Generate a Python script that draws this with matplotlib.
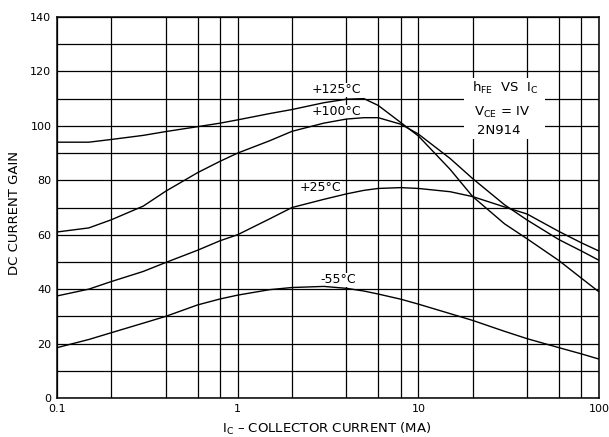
import numpy as np
import matplotlib
matplotlib.use("Agg")
import matplotlib.pyplot as plt
from matplotlib.patches import Rectangle

# collector current (mA)
ic = [0.1, 0.15, 0.2, 0.3, 0.4, 0.6, 0.8, 1, 1.5, 2, 3, 4, 5, 6, 8, 10,
      15, 20, 30, 40, 60, 80, 100]

# DC current gain for each temperature
hfe_125 = [94, 94, 95, 96.5, 97.9, 99.7, 101, 102.2, 104.5, 106, 108.5, 109.8,
           110, 107.5, 101.2, 96.3, 84, 74, 64, 58.5, 50.5, 44, 39]
hfe_100 = [61, 62.5, 65.5, 70.5, 76, 82.8, 87, 90, 94.5, 98, 101, 102.5,
           103, 103, 100.6, 97, 88, 80.6, 71, 65.4, 58.2, 54, 50.6]
hfe_25 = [37.5, 40, 42.8, 46.5, 49.8, 54.3, 57.8, 60, 65.8, 70, 73, 75,
          76.3, 77, 77.3, 77, 75.8, 74, 70.2, 67.6, 61.2, 57, 54]
hfe_m55 = [18.5, 21.5, 24, 27.5, 30, 34.2, 36.4, 37.8, 39.8, 40.6, 41, 40.3,
           39.3, 38.2, 36.3, 34.5, 31, 28.5, 24.5, 21.8, 18.5, 16.2, 14.3]

curve_labels = ["+125°C", "+100°C", "+25°C", "-55°C"]
label_pos = [(3.54, 113.2), (3.54, 105.1), (2.89, 77.2), (3.59, 43.4)]

x_major = [0.1, 1, 10, 100]
x_major_labels = ["0.1", "1", "10", "100"]
x_minor = [0.2, 0.4, 0.6, 0.8, 2, 4, 6, 8, 20, 40, 60, 80]
y_major = np.arange(0, 141, 20)
y_minor = np.arange(10, 140, 20)

plt.rcParams['font.family'] = ['DejaVu Sans']

fig = plt.figure(figsize=(6.09, 4.37), dpi=100)
ax = fig.add_axes([57/609, 39/437, 542/609, 381/437])

ax.set_xscale("log")
ax.set_xlim(0.1, 100)
ax.set_ylim(0, 140)

ax.set_xticks(x_major)
ax.set_xticklabels(x_major_labels)
ax.set_xticks(x_minor, minor=True)
ax.set_xticklabels([], minor=True)
ax.set_yticks(y_major)
ax.set_yticks(y_minor, minor=True)

ax.grid(which="both", color="black", lw=0.9)
ax.set_axisbelow(True)
ax.tick_params(which="both", length=0, labelsize=8, colors="black")
ax.tick_params(axis="x", pad=4)
ax.tick_params(axis="y", pad=4)
for s in ax.spines.values():
    s.set_linewidth(1.1)
    s.set_zorder(5)

for vals in [hfe_125, hfe_100, hfe_25, hfe_m55]:
    ax.plot(ic, vals, color="black", lw=1.0, zorder=4)

for lab, (x, y) in zip(curve_labels, label_pos):
    ax.text(x, y, lab, ha="center", va="center", fontsize=9, zorder=3,
            bbox=dict(facecolor="white", edgecolor="none", pad=0.3))

# white patch behind the title block, like the blanked grid on the sheet
ax.add_patch(Rectangle((18, 95), 32, 22.5, facecolor="white", edgecolor="none", zorder=2.5))
ax.text(30.1, 114, r"h$_{\mathrm{FE}}$  VS  I$_{\mathrm{C}}$", ha="center", va="center",
        fontsize=9.5, zorder=3)
ax.text(29.0, 104.8, r"V$_{\mathrm{CE}}$ = IV", ha="center", va="center",
        fontsize=9.5, zorder=3)
ax.text(27.9, 98.2, "2N914", ha="center", va="center", fontsize=9.5, zorder=3)

ax.set_xlabel(r"I$_{\mathrm{C}}$ – COLLECTOR CURRENT (MA)", fontsize=9.5, va="center")
ax.xaxis.set_label_coords(0.498, -0.080)
ax.set_ylabel("DC CURRENT GAIN", fontsize=9.5, va="center")
ax.yaxis.set_label_coords(-0.078, 0.486)

fig.savefig("out.png", dpi=100)
